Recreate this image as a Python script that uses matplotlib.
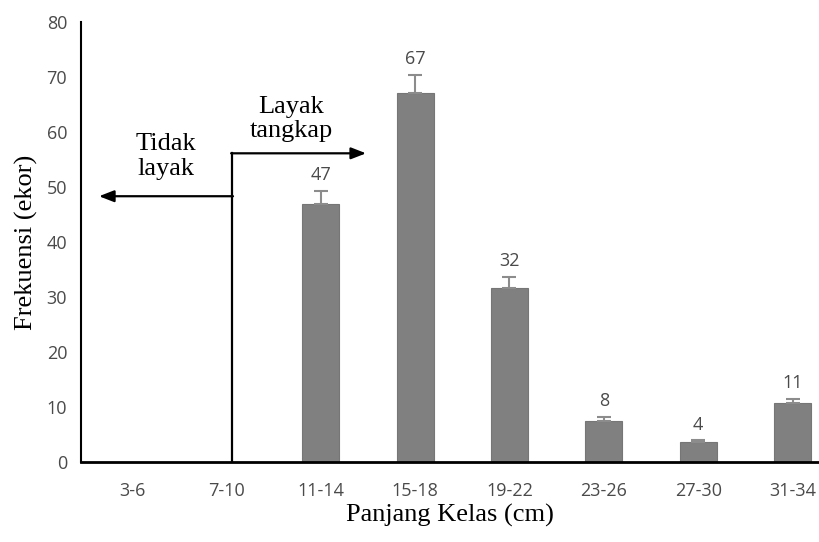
import matplotlib.pyplot as plt
import numpy as np

kelas = ["3-6", "7-10", "11-14", "15-18", "19-22", "23-26", "27-30", "31-34"]
# frekuensi per kelas panjang (0 untuk kelas yang kosong)
frek = [0, 0, 47.0, 67.1, 31.8, 7.5, 3.7, 10.9]
galat = [0, 0, 2.3, 3.3, 2.0, 0.8, 0.3, 0.7]
label_frek = ["", "", "47", "67", "32", "8", "4", "11"]

serif = "Liberation Serif"
sans = "Open Sans"
abu = "#4a4a4a"

fig = plt.figure(figsize=(8.19, 5.42), dpi=100)
ax = fig.add_axes([0.099, 0.1467, 0.901, 0.812])

x = np.arange(len(kelas))
ada = [i for i in x if frek[i] > 0]
ax.bar([x[i] for i in ada], [frek[i] for i in ada], width=0.39,
       color="#808080", edgecolor="#767676", linewidth=0.8, zorder=2)
ax.errorbar([x[i] for i in ada], [frek[i] for i in ada],
            yerr=[[0] * len(ada), [galat[i] for i in ada]],
            fmt="none", ecolor="#8c8c8c", elinewidth=1.5, capsize=5, capthick=1.5, zorder=3)

for i in ada:
    ax.annotate(label_frek[i], (x[i], frek[i] + galat[i]), xytext=(0, 5),
                textcoords="offset points", ha="center", va="bottom",
                fontsize=13, color=abu, family=sans)

# batas layak tangkap
ax.plot([1.06, 1.06], [0, 56.2], color="black", lw=1.6, zorder=4)
ax.annotate("", xy=(2.48, 56.2), xytext=(1.05, 56.2),
            arrowprops=dict(arrowstyle="-|>,head_length=0.9,head_width=0.35",
                            color="black", lw=1.6, shrinkA=0, shrinkB=0))
ax.annotate("", xy=(-0.35, 48.4), xytext=(1.07, 48.4),
            arrowprops=dict(arrowstyle="-|>,head_length=0.9,head_width=0.35",
                            color="black", lw=1.6, shrinkA=0, shrinkB=0))
ax.text(0.36, 55.6, "Tidak\nlayak", ha="center", va="center",
        fontsize=19, family=serif, linespacing=1.15)
ax.text(1.69, 62.4, "Layak\ntangkap", ha="center", va="center",
        fontsize=19, family=serif, linespacing=1.15)

ax.set_xlim(-0.54, 7.28)
ax.set_ylim(0, 80)
ax.set_yticks(range(0, 81, 10))
ax.set_xticks(x)
ax.set_xticklabels(kelas)
ax.tick_params(axis="both", length=0, labelsize=13, labelcolor=abu)
ax.tick_params(axis="y", pad=10)
ax.tick_params(axis="x", pad=14)
for t in ax.get_xticklabels() + ax.get_yticklabels():
    t.set_family(sans)

ax.spines["top"].set_visible(False)
ax.spines["right"].set_visible(False)
ax.spines["left"].set_linewidth(1.5)
ax.spines["bottom"].set_linewidth(2)

ax.set_xlabel("Panjang Kelas (cm)", fontsize=19, family=serif, labelpad=3)
ax.set_ylabel("Frekuensi (ekor)", fontsize=19, family=serif, labelpad=6)

fig.savefig("out.png", dpi=100)
